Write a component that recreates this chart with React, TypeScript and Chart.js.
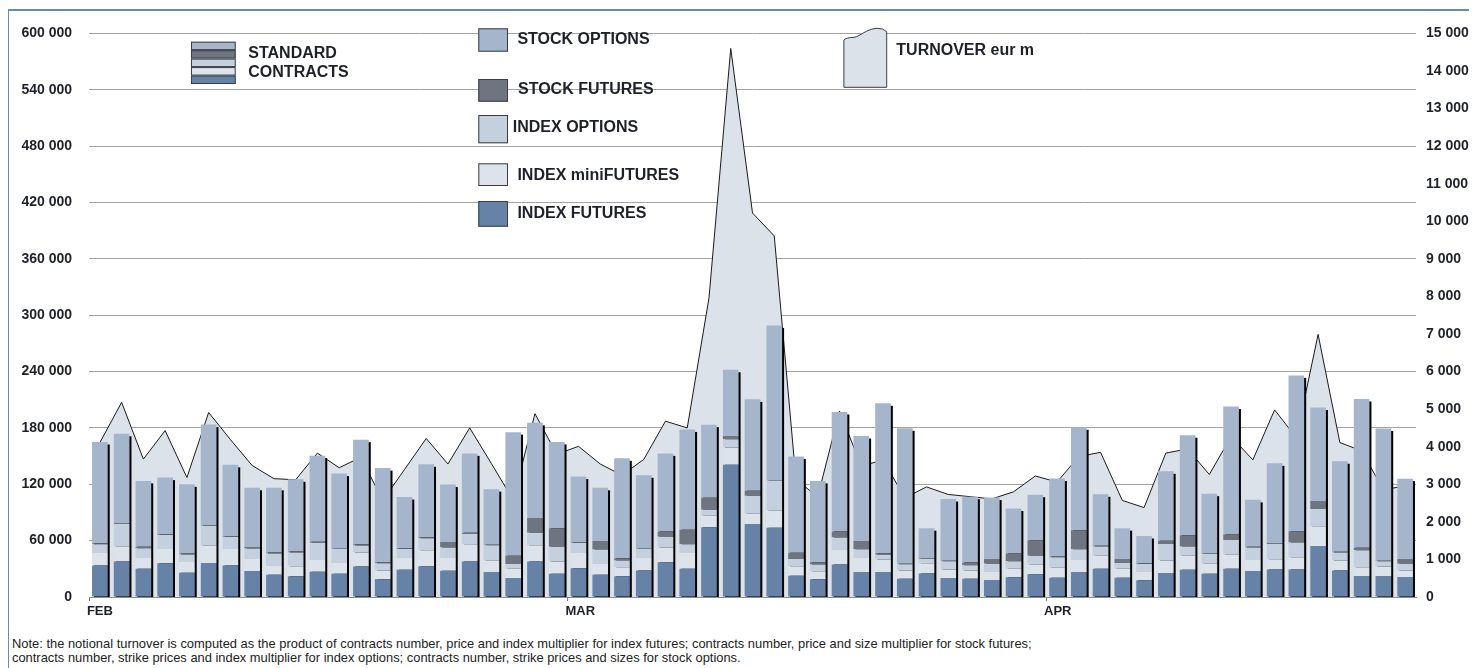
import React, { useEffect, useRef } from 'react';
import { Chart, registerables } from 'chart.js';

Chart.register(...registerables);

const FONT = "'Liberation Sans', Arial, Helvetica, sans-serif";
const TEXT = '#1e2129';
const FRAME = '#6a8aad';

// ---------- categories ----------
const monthNames = ['FEB', 'MAR', 'APR'];
const monthTradingDays = [22, 22, 17];
const categories: string[] = [];
const monthStartIdx: number[] = [];
monthNames.forEach((m, mi) => {
  monthStartIdx.push(categories.length);
  for (let d = 1; d <= monthTradingDays[mi]; d++) categories.push(`${m} ${d}`);
});

// ---------- series (standard contracts) ----------
const indexFutures = [
  33500, 37700, 30000, 36000, 25800, 36300, 33500, 27600, 23700, 22000,
  26900, 24800, 32500, 18900, 29000, 32800, 27900, 37700, 26500, 20200,
  37700, 24800, 30700, 23700, 22000, 28300, 37000, 30000, 74300, 140700,
  77800, 73600, 22700, 18900, 34600, 26500, 26500, 19500, 25100, 20200,
  19500, 18200, 20900, 24100, 20600, 26500, 30000, 20600, 17800, 25500,
  29000, 24800, 30000, 27600, 29300, 29300, 54400, 28300, 22300, 22300, 21300,
];
const indexMiniFutures = [
  13300, 15700, 11500, 15000, 11500, 18200, 17500, 12900, 9400, 10800,
  12600, 11500, 15000, 9400, 12600, 17100, 13600, 18500, 12200, 9800,
  17500, 12900, 16100, 11500, 9800, 13300, 15700, 16800, 12200, 18500,
  10800, 18200, 10100, 8400, 15400, 15000, 13300, 8700, 10800, 9100,
  8700, 8400, 9100, 10100, 10500, 12900, 14000, 9400, 8700, 13300,
  15000, 10500, 15000, 11900, 10800, 12900, 20900, 10500, 9400, 10100, 7000,
];
const indexOptions = [
  9400, 24400, 10500, 15000, 8000, 21300, 12900, 11200, 13300, 14700,
  18200, 14700, 7300, 7700, 9400, 12600, 11200, 10800, 16400, 5200,
  13300, 15700, 10800, 15400, 7000, 9400, 11500, 9400, 6300, 8700,
  19200, 32100, 7700, 7300, 13300, 9400, 5200, 6600, 4900, 8700,
  5600, 8700, 8000, 9800, 11200, 11500, 9800, 6300, 8700, 17500,
  9800, 10800, 15700, 13300, 16400, 15700, 18500, 8700, 18200, 5600, 7000,
];
const stockFutures = [
  1000, 1000, 1400, 700, 1000, 700, 400, 1400, 1000, 1000,
  1000, 400, 1400, 1000, 1000, 1000, 5900, 1400, 400, 8700,
  15700, 19900, 400, 9100, 2400, 400, 5600, 15400, 12900, 3500,
  5200, 400, 6600, 2400, 6300, 8700, 1700, 700, 700, 700,
  2800, 5200, 8400, 16400, 700, 20200, 700, 4200, 700, 3500,
  11900, 700, 5900, 700, 1000, 12200, 8400, 700, 2400, 700, 5200,
];
const stockOptions = [
  107800, 94900, 70200, 60400, 73600, 107100, 76400, 63200, 68800, 76800,
  91800, 80000, 111300, 100200, 54400, 77800, 61100, 84500, 59300, 131600,
  101200, 91800, 70200, 56500, 106400, 78200, 83100, 106800, 77800, 70500,
  97400, 164800, 102600, 86600, 127400, 111700, 159500, 144100, 31800, 65600,
  70200, 65300, 47800, 48500, 83100, 109600, 54800, 32800, 29000, 74000,
  106500, 63200, 136100, 49900, 84800, 165800, 99500, 96300, 158500, 140700, 85500,
];
// ---------- turnover (eur m, right axis) ----------
const turnover = [
  4110, 5180, 3670, 4430, 3180, 4910, 4190, 3500, 3150, 3120,
  3830, 3440, 3720, 2570, 3390, 4220, 3540, 4500, 3550, 2580,
  4880, 3800, 4010, 3540, 3240, 3660, 4680, 4500, 7960, 14600,
  10220, 9610, 3120, 2670, 4950, 3480, 3650, 2640, 2930, 2730,
  2670, 2610, 2800, 3220, 3060, 3740, 3850, 2570, 2380, 3830,
  3940, 3260, 4270, 3650, 4980, 4240, 6990, 4110, 3890, 2850, 2960,
];

// ---------- axes ----------
const leftAxisMax = 600000;
const leftAxisStep = 60000;
const rightAxisMax = 15000;
const rightAxisStep = 1000;

// ---------- colours ----------
const C_SO = '#a5b5cb';
const C_SF = '#6e7580';
const C_IO = '#c4d0de';
const C_MF = '#dde3eb';
const C_IF = '#6683a7';
const C_AREA = '#dbe2ea';

const barSeries = [
  { label: 'INDEX FUTURES', data: indexFutures, color: C_IF },
  { label: 'INDEX miniFUTURES', data: indexMiniFutures, color: C_MF },
  { label: 'INDEX OPTIONS', data: indexOptions, color: C_IO },
  { label: 'STOCK FUTURES', data: stockFutures, color: C_SF },
  { label: 'STOCK OPTIONS', data: stockOptions, color: C_SO },
];

const fmt = (v: number) => String(v).replace(/\B(?=(\d{3})+(?!\d))/g, ' ');

const OX = 8; // canvas offset on page
const OY = 8;

const shadowPlugin = {
  id: 'barShadow',
  afterDatasetDraw(chart: any, args: any) {
    if (args.index !== barSeries.length) return;
    const { ctx, chartArea } = chart;
    const yScale = chart.scales.y;
    const topMeta = chart.getDatasetMeta(barSeries.length - 1);
    ctx.save();
    ctx.beginPath();
    ctx.rect(chartArea.left, chartArea.top, chartArea.right - chartArea.left, chartArea.bottom - chartArea.top);
    ctx.clip();
    ctx.fillStyle = '#000000';
    const zero = yScale.getPixelForValue(0);
    topMeta.data.forEach((el: any, i: number) => {
      const total = barSeries.reduce((s, b) => s + b.data[i], 0);
      const top = yScale.getPixelForValue(total);
      const w = el.width;
      ctx.fillRect(el.x - w / 2 + 2, top + 2.5, w, zero - top + 3);
    });
    ctx.restore();
  },
};

const legendPlugin = {
  id: 'customLegend',
  afterDraw(chart: any) {
    const ctx = chart.ctx as CanvasRenderingContext2D;
    const px = (x: number) => x - OX;
    const py = (y: number) => y - OY;
    ctx.save();
    ctx.lineWidth = 1;
    ctx.strokeStyle = '#3a3d44';
    // standard contracts icon
    const stripColors = [C_SO, C_SF, C_IO, C_MF, C_IF];
    const ix = px(191), iy = py(41.7), iw = 44.7, ih = 42.3;
    const sh = ih / stripColors.length;
    stripColors.forEach((c, k) => {
      ctx.fillStyle = c;
      ctx.fillRect(ix, iy + k * sh, iw, sh);
      ctx.strokeRect(ix + 0.5, iy + k * sh + 0.5, iw - 1, sh - 1);
    });
    ctx.fillStyle = TEXT;
    ctx.textBaseline = 'alphabetic';
    ctx.textAlign = 'left';
    ctx.font = `bold 16px ${FONT}`;
    ctx.fillText('STANDARD', px(248.3), py(58.3));
    ctx.fillText('CONTRACTS', px(248.3), py(77.3));

    const items = [
      { label: 'STOCK OPTIONS', color: C_SO, y0: 28.3, h: 23.4, tx: 517.4, ty: 44.3 },
      { label: 'STOCK FUTURES', color: C_SF, y0: 79, h: 22.7, tx: 518, ty: 94 },
      { label: 'INDEX OPTIONS', color: C_IO, y0: 115, h: 28.3, tx: 512.8, ty: 131.7 },
      { label: 'INDEX miniFUTURES', color: C_MF, y0: 163.3, h: 22.7, tx: 517.4, ty: 180 },
      { label: 'INDEX FUTURES', color: C_IF, y0: 201, h: 25.7, tx: 517.4, ty: 217.7 },
    ];
    items.forEach((it) => {
      ctx.fillStyle = it.color;
      ctx.fillRect(px(478.3), py(it.y0), 29.7, it.h);
      ctx.strokeRect(px(478.3) + 0.5, py(it.y0) + 0.5, 28.7, it.h - 1);
      ctx.fillStyle = TEXT;
      ctx.fillText(it.label, px(it.tx), py(it.ty));
    });

    // turnover icon
    ctx.beginPath();
    ctx.moveTo(px(843.9), py(87.3));
    ctx.lineTo(px(843.9), py(40));
    ctx.quadraticCurveTo(px(845.5), py(37.6), px(854.2), py(37.3));
    ctx.bezierCurveTo(px(860), py(36.5), px(866), py(29), px(877.1), py(28.3));
    ctx.quadraticCurveTo(px(883), py(28), px(886.7), py(31.7));
    ctx.lineTo(px(886.7), py(87.3));
    ctx.closePath();
    ctx.fillStyle = C_AREA;
    ctx.fill();
    ctx.stroke();
    ctx.fillStyle = TEXT;
    ctx.fillText('TURNOVER eur m', px(896.3), py(55));
    ctx.restore();
  },
};

export default function App() {
  const ref = useRef<HTMLCanvasElement>(null);
  useEffect(() => {
    document.documentElement.style.overflow = 'hidden';
    const datasets: any[] = barSeries.map((b) => ({
      type: 'bar',
      label: b.label,
      data: b.data,
      backgroundColor: b.color,
      borderWidth: 0,
      barPercentage: 0.72,
      categoryPercentage: 1,
      yAxisID: 'y',
      stack: 'contracts',
      order: 0,
    }));
    datasets.push({
      type: 'line',
      label: 'TURNOVER eur m',
      data: turnover,
      yAxisID: 'y1',
      borderColor: '#1a1a1a',
      borderWidth: 1,
      backgroundColor: C_AREA,
      fill: 'origin',
      pointRadius: 0,
      tension: 0,
      order: 10,
    });
    const chart = new Chart(ref.current as HTMLCanvasElement, {
      type: 'bar',
      data: { labels: categories, datasets },
      options: {
        responsive: false,
        animation: false,
        devicePixelRatio: 1,
        layout: { padding: { top: 16, left: 0, right: 0, bottom: 0 } },
        plugins: { legend: { display: false }, tooltip: { enabled: false } },
        scales: {
          x: {
            type: 'category',
            stacked: true,
            offset: true,
            grid: {
              display: true,
              drawOnChartArea: false,
              drawTicks: true,
              tickLength: 4,
              offset: true,
              color: (c: any) => (monthStartIdx.includes(c.index) ? '#7a7a7a' : 'rgba(0,0,0,0)'),
              lineWidth: 1,
            },
            border: { display: true, color: '#8e8e8e', width: 1 },
            ticks: {
              autoSkip: false,
              maxRotation: 0,
              minRotation: 0,
              align: 'start',
              labelOffset: -13,
              padding: 3,
              color: TEXT,
              font: { family: FONT, size: 13, weight: 'bold' },
              callback: (_v: any, i: number) => {
                const m = monthStartIdx.indexOf(i);
                return m >= 0 ? monthNames[m] : '';
              },
            },
            afterFit: (s: any) => {
              s.height = 31;
            },
          },
          y: {
            type: 'linear',
            position: 'left',
            stacked: true,
            min: 0,
            max: leftAxisMax,
            grid: { color: '#a3a3a3', lineWidth: 1, drawTicks: false },
            border: { display: false },
            ticks: {
              stepSize: leftAxisStep,
              padding: 17,
              color: TEXT,
              font: { family: FONT, size: 14, weight: 'bold' },
              callback: (v: any) => fmt(Number(v)),
            },
            afterFit: (s: any) => {
              s.width = 81;
            },
          },
          y1: {
            type: 'linear',
            position: 'right',
            min: 0,
            max: rightAxisMax,
            grid: { display: false, drawTicks: false },
            border: { display: false },
            ticks: {
              stepSize: rightAxisStep,
              padding: 10,
              color: TEXT,
              font: { family: FONT, size: 14, weight: 'bold' },
              callback: (v: any) => fmt(Number(v)),
            },
            afterFit: (s: any) => {
              s.width = 61;
            },
          },
        },
      } as any,
      plugins: [shadowPlugin, legendPlugin],
    });
    return () => chart.destroy();
  }, []);

  return (
    <div style={{ position: 'relative', width: 1469, height: 660, fontFamily: FONT }}>
      <div style={{ position: 'absolute', left: -1, top: 1, width: 1470, height: 2, background: FRAME }} />
      <div style={{ position: 'absolute', left: -1, top: 1, width: 2, height: 659, background: FRAME }} />
      <canvas
        ref={ref}
        width={1469}
        height={620}
        style={{ position: 'absolute', left: 0, top: 0, width: 1469, height: 620 }}
      />
      <div
        style={{
          position: 'absolute',
          left: 4,
          top: 629,
          fontSize: 12.9,
          lineHeight: '14px',
          color: '#222',
          whiteSpace: 'nowrap',
        }}
      >
        <div>
          Note: the notional turnover is computed as the product of contracts number, price and index multiplier for
          index futures; contracts number, price and size multiplier for stock futures;
        </div>
        <div>
          contracts number, strike prices and index multiplier for index options; contracts number, strike prices and
          sizes for stock options.
        </div>
      </div>
    </div>
  );
}
